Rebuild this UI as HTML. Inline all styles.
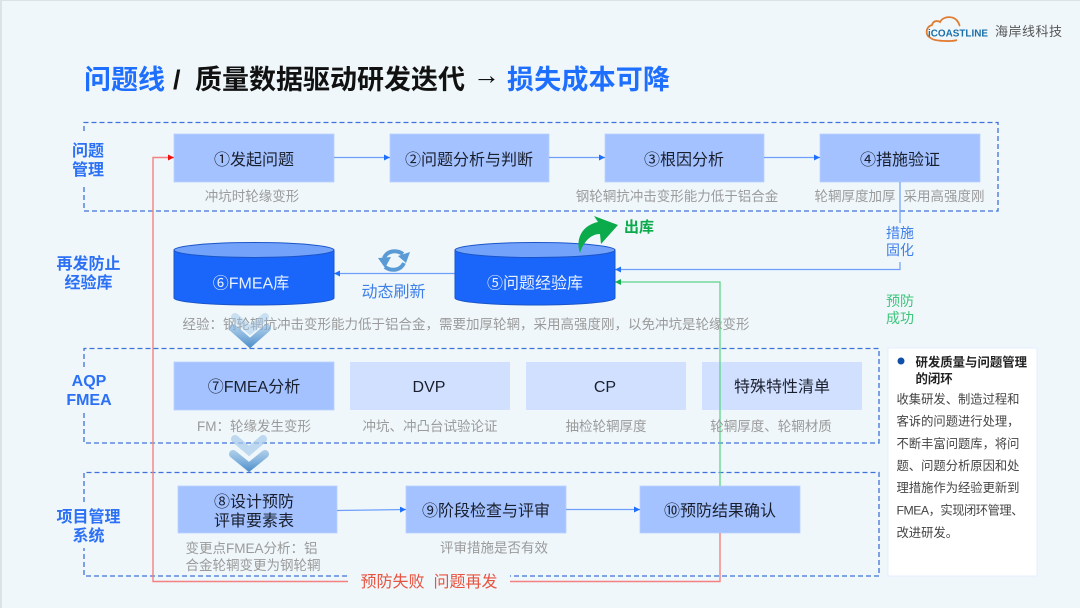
<!DOCTYPE html>
<html><head><meta charset="utf-8">
<style>
html,body{margin:0;padding:0;background:#eff7fb}
svg{display:block}
text{font-family:"Liberation Sans","Noto Sans CJK SC",sans-serif}
.b{font-size:16px;fill:#1a1f2e;text-anchor:middle}
.g{font-size:13.5px;fill:#9a9a9a;text-anchor:middle}
.s{font-size:13.5px;fill:#9a9a9a}
.l{font-size:16px;font-weight:700;fill:#2b70f5;text-anchor:middle}
.p{font-size:12.3px;fill:#444}
.t{font-size:27px;font-weight:700}
</style></head><body>
<svg width="1080" height="608" viewBox="0 0 1080 608" xmlns="http://www.w3.org/2000/svg">
<defs>
<linearGradient id="ch" gradientUnits="userSpaceOnUse" x1="0" y1="320" x2="0" y2="348"><stop offset="0" stop-color="#8fbbe3" stop-opacity=".5"/><stop offset="1" stop-color="#4a8cc9"/></linearGradient>
<linearGradient id="ch2" gradientUnits="userSpaceOnUse" x1="0" y1="448" x2="0" y2="472"><stop offset="0" stop-color="#8fbbe3" stop-opacity=".6"/><stop offset="1" stop-color="#4a8cc9"/></linearGradient>
<marker id="ab" markerWidth="7" markerHeight="7" refX="6" refY="3" orient="auto" markerUnits="userSpaceOnUse"><path d="M0,0L6,3L0,6z" fill="#1f6fff"/></marker>
<marker id="ar" markerWidth="7" markerHeight="7" refX="6" refY="3" orient="auto" markerUnits="userSpaceOnUse"><path d="M0,0L6,3L0,6z" fill="#f01010"/></marker>
<marker id="ag" markerWidth="7" markerHeight="7" refX="6" refY="3" orient="auto" markerUnits="userSpaceOnUse"><path d="M0,0L6,3L0,6z" fill="#12b050"/></marker>
</defs>
<rect width="1080" height="608" fill="#eff7fb"/>
<rect x="0" y="0" width="1080" height="1" fill="#dde2e8"/>
<rect x="0" y="0" width="2" height="608" fill="#dde2e8"/>

<!-- logo -->
<path d="M931,38c-6,-2 -6,-11 1,-13c1,-4 5,-5 8,-3c3,-6 14,-7 18,0c1,1 1,3 2,4" fill="none" stroke="#e07b30" stroke-width="1.800"/>
<path d="M931,38c2,3 20,4 26,2" fill="none" stroke="#e07b30" stroke-width="1.800"/>
<text x="928" y="36.500" font-size="10" font-weight="700" fill="#1d6fa8" textLength="60" lengthAdjust="spacingAndGlyphs">iCOASTLINE</text>
<text x="995" y="36" font-size="13" fill="#555" textLength="67">海岸线科技</text>

<!-- title -->
<text class="t" x="84" y="89" fill="#1f6fff">问题线</text>
<text class="t" x="173" y="89" fill="#111">/</text>
<text class="t" x="195" y="89" fill="#111" textLength="270">质量数据驱动研发迭代</text>
<text x="473" y="84" font-size="27" fill="#111">→</text>
<text class="t" x="507" y="89" fill="#1f6fff" textLength="163">损失成本可降</text>

<!-- dashed groups -->
<g fill="none" stroke="#3f72d8" stroke-width="1.3" stroke-dasharray="5 3">
<path d="M84,131V122.500H998V211H84V186"/>
<path d="M84,367V348.500H879V443H84V412"/>
<path d="M84,502V472.500H879V576H510M347,576H84V548"/>
</g>

<!-- side labels -->
<text class="l" x="88" y="156">问题</text><text class="l" x="88" y="175">管理</text>
<text class="l" x="88.500" y="269">再发防止</text><text class="l" x="88.500" y="288">经验库</text>
<text class="l" x="89" y="386">AQP</text><text class="l" x="89" y="405">FMEA</text>
<text class="l" x="88.500" y="522">项目管理</text><text class="l" x="88.500" y="541">系统</text>

<!-- row 1 -->
<g fill="#a3c2ff" stroke="#b8d0ff" stroke-width=".8">
<rect x="174" y="134" width="160" height="48"/>
<rect x="390" y="134" width="159" height="48"/>
<rect x="605" y="134" width="159" height="48"/>
<rect x="820" y="134" width="160" height="48"/>
<rect x="174" y="362" width="160" height="48"/>
<rect x="178" y="486" width="159" height="47"/>
<rect x="406" y="486" width="160" height="47"/>
<rect x="640" y="486" width="160" height="47"/>
</g>
<g fill="#d1e0ff">
<rect x="350" y="362" width="160" height="48"/>
<rect x="526" y="362" width="160" height="48"/>
<rect x="702" y="362" width="160" height="48"/>
</g>
<text class="b" x="254" y="165">①发起问题</text>
<text class="b" x="469" y="165">②问题分析与判断</text>
<text class="b" x="684" y="165">③根因分析</text>
<text class="b" x="900" y="165">④措施验证</text>
<text class="g" x="252" y="201">冲坑时轮缘变形</text>
<text class="g" x="677" y="201">钢轮辋抗冲击变形能力低于铝合金</text>
<text class="g" x="855" y="201">轮辋厚度加厚</text>
<text class="g" x="944" y="201">采用高强度刚</text>

<!-- row arrows -->
<g fill="none" stroke="#6f9ffb" stroke-width="1.2">
<path d="M334,157.500H390" marker-end="url(#ab)"/>
<path d="M549,157.500H605" marker-end="url(#ab)"/>
<path d="M764,157.500H820" marker-end="url(#ab)"/>
<path d="M337,510.500L406,509.500" marker-end="url(#ab)"/>
<path d="M566,509.500H640" marker-end="url(#ab)"/>
<path d="M455,273.500H334" marker-end="url(#ab)"/>
<path d="M900,182V223M900,262V269.500H615" marker-end="url(#ab)"/>
</g>

<!-- red feedback -->
<path d="M720,533V581.500H510M348,581.500H153V157.500H174" fill="none" stroke="#f58080" stroke-width="1.4" marker-end="url(#ar)"/>
<text x="429" y="587" font-size="16" fill="#e8533f" text-anchor="middle">预防失败&#160;&#160;问题再发</text>
<!-- green -->
<path d="M720,486V282H615" fill="none" stroke="#5dd38b" stroke-width="1.3" marker-end="url(#ag)"/>

<!-- cylinders -->
<g stroke="#1a55c8" stroke-width="1">
<path d="M174,250V298A80,7 0 0 0 334,298V250z" fill="#1a66fa"/>
<ellipse cx="254" cy="250" rx="80" ry="7.500" fill="#73a2fb"/>
<path d="M455,250V298A80,7 0 0 0 615,298V250z" fill="#1a66fa"/>
<ellipse cx="535" cy="250" rx="80" ry="7.500" fill="#73a2fb"/>
</g>
<text x="251" y="288.500" font-size="16" fill="#e8f0ff" text-anchor="middle">⑥FMEA库</text>
<text x="535" y="288.500" font-size="16" fill="#e8f0ff" text-anchor="middle">⑤问题经验库</text>

<!-- exit arrow -->
<path d="M580,253C575,238 583,225 598,222L594,216L618,225L601,244L600,234C590,234 583,243 580,253z" fill="#0bab4b"/>
<text x="624" y="232" font-size="15" font-weight="700" fill="#0bab4b">出库</text>

<!-- refresh icon -->
<g fill="none" stroke="#5b9bd5" stroke-width="4">
<path d="M384,258C387,251 396,249 403,254"/>
<path d="M404,263C401,270 392,272 385,267"/>
</g>
<path d="M398,256L410,252L406,263z" fill="#5b9bd5"/>
<path d="M378,258L391,257L385,268z" fill="#5b9bd5"/>
<text x="393.500" y="297" font-size="16" fill="#3f7fe8" text-anchor="middle">动态刷新</text>

<text x="900" y="238" font-size="14" fill="#3f7fe8" text-anchor="middle">措施</text>
<text x="900" y="255" font-size="14" fill="#3f7fe8" text-anchor="middle">固化</text>
<text x="900" y="306" font-size="14" fill="#3fc47a" text-anchor="middle">预防</text>
<text x="900" y="323" font-size="14" fill="#3fc47a" text-anchor="middle">成功</text>

<text class="g" x="466" y="329">经验：钢轮辋抗冲击变形能力低于铝合金，需要加厚轮辋，采用高强度刚，以免冲坑是轮缘变形</text>

<!-- chevrons -->
<g fill="none" stroke-width="8" stroke-linecap="round">
<path d="M235,317L250,330L265,317" stroke="#9cc3e6" stroke-opacity=".45"/>
<path d="M233,328L250,343L267,328" stroke="url(#ch)"/>
<path d="M235,439L249,451L263,439" stroke="#a9cbea" stroke-opacity=".7"/>
<path d="M233,454L249,467L265,454" stroke="url(#ch2)"/>
</g>

<!-- row AQP -->
<text class="b" x="254" y="392">⑦FMEA分析</text>
<text class="b" x="429" y="392">DVP</text>
<text class="b" x="605" y="392">CP</text>
<text class="b" x="782" y="392">特殊特性清单</text>
<text class="g" x="254" y="431">FM：轮缘发生变形</text>
<text class="g" x="430" y="431">冲坑、冲凸台试验论证</text>
<text class="g" x="606" y="431">抽检轮辋厚度</text>
<text class="g" x="771" y="431">轮辋厚度、轮辋材质</text>

<!-- row project -->
<text class="b" x="254" y="507">⑧设计预防</text>
<text class="b" x="254" y="526">评审要素表</text>
<text class="b" x="486" y="516">⑨阶段检查与评审</text>
<text class="b" x="720" y="516">⑩预防结果确认</text>
<text class="s" x="185.500" y="553">变更点FMEA分析：铝</text>
<text class="s" x="185.500" y="570">合金轮辋变更为钢轮辋</text>
<text class="g" x="494" y="552.500">评审措施是否有效</text>

<!-- panel -->
<rect x="888" y="348" width="149" height="228" fill="#fff" stroke="#e6efff" stroke-width="1"/>
<circle cx="901" cy="361" r="3.500" fill="#0f4fa8"/>
<text x="915.500" y="366.500" font-size="12.400" font-weight="700" fill="#222">研发质量与问题管理</text>
<text x="915.500" y="383" font-size="12.400" font-weight="700" fill="#222">的闭环</text>
<text class="p" x="896.500" y="403.500">收集研发、制造过程和</text>
<text class="p" x="896.500" y="425.500">客诉的问题进行处理，</text>
<text class="p" x="896.500" y="448">不断丰富问题库，将问</text>
<text class="p" x="896.500" y="470">题、问题分析原因和处</text>
<text class="p" x="896.500" y="492">理措施作为经验更新到</text>
<text class="p" x="896.500" y="514.500" textLength="127">FMEA，实现闭环管理、</text>
<text class="p" x="896.500" y="537">改进研发。</text>
</svg>
</body></html>
